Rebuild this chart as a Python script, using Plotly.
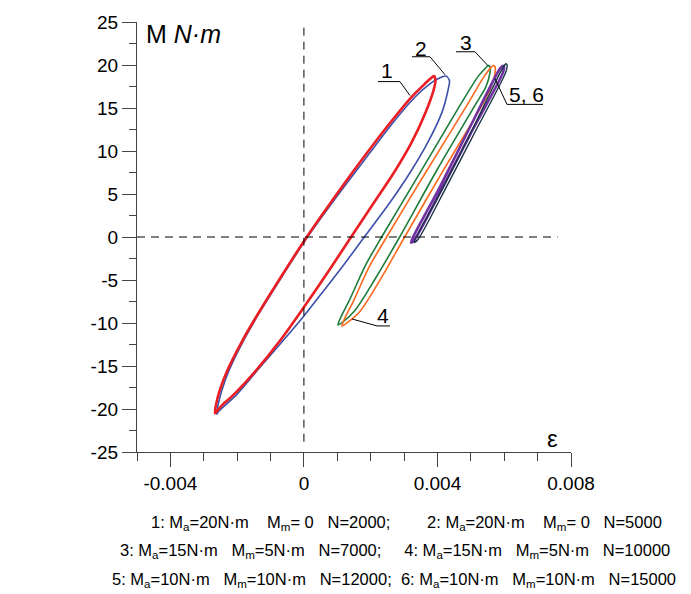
import plotly.graph_objects as go

# ---------------- data (strain eps, moment M in N·m) ----------------
loop1_eps = [-0.002666, -0.002636, -0.002523, -0.002295, -0.001846, -0.001324, -0.000674, 0.000015, 0.000821,
             0.001684, 0.002595, 0.003209, 0.003598, 0.003775, 0.003895,
             0.003940, 0.003880, 0.003643, 0.003230, 0.002708, 0.002115, 0.001423, 0.000716, -0.000018,
             -0.000719, -0.001438, -0.002127, -0.002457, -0.002607, -0.002666]
loop1_M = [-20.50, -19.57, -17.84, -15.53, -12.07, -8.60, -4.56, -0.40, 4.10,
           8.72, 13.34, 16.22, 17.72, 18.36, 18.71,
           18.19, 17.03, 14.49, 11.03, 7.56, 4.10, 0.06, -4.10, -8.26,
           -12.07, -15.53, -18.42, -19.57, -20.27, -20.50]

loop2_eps = [-0.002607, -0.002574, -0.002460, -0.002244, -0.001813, -0.001300, -0.000650, 0.000078, 0.000869,
             0.001768, 0.002678, 0.003314, 0.003742, 0.004030, 0.004254,
             0.004359, 0.004314, 0.004134, 0.003715, 0.003191, 0.002592, 0.001798, 0.001138, 0.000539, 0.0,
             -0.000629, -0.001348, -0.002007, -0.002397, -0.002577, -0.002607]
loop2_M = [-20.61, -19.57, -17.84, -15.53, -12.07, -8.60, -4.56, -0.17, 4.10,
           8.72, 13.34, 16.22, 17.72, 18.42, 18.71,
           18.19, 17.03, 14.49, 11.03, 7.56, 4.10, -0.06, -3.52, -6.52, -9.18,
           -12.07, -15.30, -18.30, -19.69, -20.38, -20.61]

loop3_eps = [0.001019, 0.001109, 0.001378, 0.001828, 0.002337, 0.003475, 0.004674, 0.005213, 0.005423, 0.005513,
             0.005573, 0.005573, 0.005453, 0.005123, 0.003985, 0.002876, 0.002127, 0.001528, 0.001168, 0.001019]
loop3_M = [-10.22, -9.30, -7.22, -3.41, 0.06, 7.45, 15.30, 18.65, 19.58, 19.92,
           19.80, 19.11, 17.49, 15.30, 7.79, 0.06, -4.91, -8.55, -9.87, -10.22]

loop4_eps = [0.001138, 0.001228, 0.001498, 0.001947, 0.002487, 0.003655, 0.004883, 0.005393, 0.005573, 0.005662,
             0.005722, 0.005722, 0.005602, 0.005333, 0.004164, 0.003026, 0.002277, 0.001678, 0.001288, 0.001138]
loop4_M = [-10.34, -9.41, -7.33, -3.52, 0.06, 7.56, 15.30, 18.65, 19.58, 19.92,
           19.80, 18.99, 17.38, 15.30, 7.68, 0.06, -5.02, -8.66, -9.99, -10.34]

loop5_eps = [0.003206, 0.004075, 0.004973, 0.005872, 0.005962,
             0.005992, 0.005962, 0.005063, 0.004164, 0.003296, 0.003206]
loop5_M = [-0.64, 5.83, 12.76, 19.58, 19.92,
           19.80, 19.11, 12.53, 5.83, -0.40, -0.64]

loop6_eps = [0.003296, 0.004194, 0.005093, 0.005962, 0.006052,
             0.006082, 0.006052, 0.005183, 0.004284, 0.003415, 0.003296]
loop6_M = [-0.64, 5.95, 12.88, 19.69, 20.15,
           20.03, 19.23, 12.64, 5.95, -0.29, -0.64]

x_tickvals = [-0.004, 0, 0.004, 0.008]
x_ticktext = ["-0.004", "0", "0.004", "0.008"]
y_tickvals = [-25, -20, -15, -10, -5, 0, 5, 10, 15, 20, 25]
y_ticktext = ["-25", "-20", "-15", "-10", "-5", "0", "5", "10", "15", "20", "25"]

# legend text segments (joined with gaps of the given number of spaces)
legend_segments = [
    ["1: M<sub>a</sub>=20N·m", "M<sub>m</sub>= 0", "N=2000;", "2: M<sub>a</sub>=20N·m", "M<sub>m</sub>= 0", "N=5000"],
    ["3: M<sub>a</sub>=15N·m", "M<sub>m</sub>=5N·m", "N=7000;", "4: M<sub>a</sub>=15N·m", "M<sub>m</sub>=5N·m", "N=10000"],
    ["5: M<sub>a</sub>=10N·m", "M<sub>m</sub>=10N·m", "N=12000;", "6: M<sub>a</sub>=10N·m", "M<sub>m</sub>=10N·m", "N=15000"],
]
legend_gaps = [[4, 3, 8, 4, 3], [3, 3, 5, 3, 3], [3, 3, 2, 3, 3]]

# ---------------- styling / layout ----------------
FONT = "Liberation Sans, Arial, sans-serif"
AX = "#444444"

loops = [
    (loop2_eps, loop2_M, "rgb(60,80,170)", 1.6),
    (loop1_eps, loop1_M, "rgb(235,30,36)", 2.6),
    (loop3_eps, loop3_M, "rgb(30,125,60)", 1.6),
    (loop4_eps, loop4_M, "rgb(250,105,30)", 1.6),
    (loop5_eps, loop5_M, "rgb(112,50,160)", 2.6),
    (loop6_eps, loop6_M, "rgb(25,50,70)", 1.4),
]

fig = go.Figure()
for ex, my, col, w in loops:
    fig.add_trace(go.Scatter(x=ex, y=my, mode="lines",
                             line=dict(color=col, width=w, shape="spline", smoothing=0.8),
                             hoverinfo="skip", showlegend=False))

# leader lines for the curve labels
leaders = [
    ([0.002217, 0.002876, 0.003176], [18.07, 18.07, 16.45]),
    ([0.003236, 0.003775, 0.004224], [20.96, 20.96, 18.88]),
    ([0.004554, 0.005123, 0.005513], [21.54, 21.54, 19.92]),
    ([0.005722, 0.006082, 0.007160], [18.42, 15.42, 15.42]),
    ([0.001438, 0.002187, 0.002577], [-9.53, -10.34, -10.34]),
]
for lx, ly in leaders:
    fig.add_trace(go.Scatter(x=lx, y=ly, mode="lines", line=dict(color="black", width=1),
                             hoverinfo="skip", showlegend=False))

labels = [("1", 0.002487, 19.34), ("2", 0.003505, 21.88), ("3", 0.004854, 22.58),
          ("5, 6", 0.006681, 16.57), ("4", 0.002367, -9.18)]
annotations = []
for t, lx, ly in labels:
    annotations.append(dict(x=lx, y=ly, xref="x", yref="y", text=t, showarrow=False,
                            font=dict(family=FONT, size=21, color="black"),
                            xanchor="center", yanchor="middle"))

annotations.append(dict(x=-0.004794, y=23.6, xref="x", yref="y", text="M <i>N·m</i>",
                        showarrow=False, font=dict(family=FONT, size=25, color="black"),
                        xanchor="left", yanchor="middle"))
annotations.append(dict(x=0.007459, y=-23.4, xref="x", yref="y", text="ε",
                        showarrow=False, font=dict(family=FONT, size=24, color="black"),
                        xanchor="center", yanchor="middle"))

leg_pos = [(0.621, -0.164), (0.5956, -0.231), (0.5922, -0.298)]
for segs, gaps, (lx, ly) in zip(legend_segments, legend_gaps, leg_pos):
    txt = segs[0]
    for s, g in zip(segs[1:], gaps):
        txt += "\u00a0" * g + s
    annotations.append(dict(x=lx, y=ly, xref="paper", yref="paper", text=txt,
                            showarrow=False, font=dict(family=FONT, size=16.5, color="black"),
                            xanchor="center", yanchor="middle"))

shapes = [
    dict(type="line", xref="x", yref="y", x0=0, x1=0, y0=-23.8, y1=25,
         line=dict(color="black", width=1, dash="8px,6px")),
    dict(type="line", xref="x", yref="y", x0=-0.005, x1=0.0076, y0=0, y1=0,
         line=dict(color="black", width=1, dash="8px,6px")),
]

fig.update_layout(
    width=691, height=594,
    margin=dict(l=137, r=120, t=19, b=142),
    paper_bgcolor="white", plot_bgcolor="white",
    showlegend=False,
    annotations=annotations,
    shapes=shapes,
    font=dict(family=FONT, size=19, color="black"),
    xaxis=dict(range=[-0.005, 0.008], showgrid=False, zeroline=False,
               showline=True, linecolor=AX, linewidth=1.3,
               tickmode="array", tickvals=x_tickvals, ticktext=x_ticktext,
               ticks="outside", ticklen=14, tickwidth=1.2, tickcolor=AX,
               tickfont=dict(family=FONT, size=19, color="black"),
               minor=dict(tickmode="linear", tick0=0, dtick=0.001, ticks="outside",
                          ticklen=8, tickwidth=1.2, tickcolor=AX, showgrid=False)),
    yaxis=dict(range=[-25, 25], showgrid=False, zeroline=False,
               showline=True, linecolor=AX, linewidth=1.3,
               tickmode="array", tickvals=y_tickvals, ticktext=y_ticktext,
               ticks="outside", ticklen=14, tickwidth=1.2, tickcolor=AX,
               tickfont=dict(family=FONT, size=19, color="black"),
               minor=dict(tickmode="linear", tick0=0, dtick=2.5, ticks="outside",
                          ticklen=7, tickwidth=1.2, tickcolor=AX, showgrid=False)),
)

fig.write_html("out.html")
